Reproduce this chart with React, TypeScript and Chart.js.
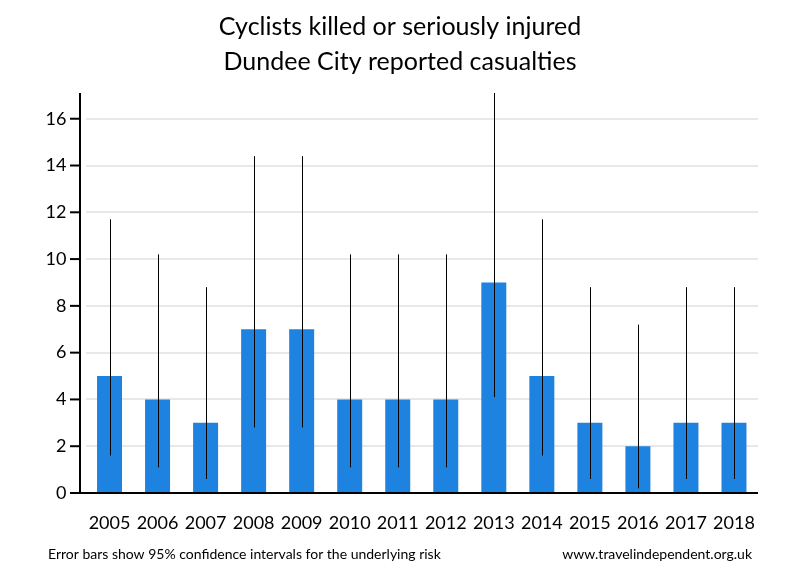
import React, { useEffect, useRef } from "react";
import { Chart, registerables } from "chart.js";

Chart.register(...registerables);

const years = ["2005","2006","2007","2008","2009","2010","2011","2012","2013","2014","2015","2016","2017","2018"];
const casualties = [5, 4, 3, 7, 7, 4, 4, 4, 9, 5, 3, 2, 3, 3];
const lowerCI = [1.6, 1.1, 0.6, 2.8, 2.8, 1.1, 1.1, 1.1, 4.1, 1.6, 0.6, 0.2, 0.6, 0.6];
const upperCI = [11.7, 10.2, 8.8, 14.4, 14.4, 10.2, 10.2, 10.2, 17.1, 11.7, 8.8, 7.2, 8.8, 8.8];
const titleLines = ["Cyclists killed or seriously injured", "Dundee City reported casualties"];
const footLeft = "Error bars show 95% confidence intervals for the underlying risk";
const footRight = "www.travelindependent.org.uk";
const yTicks = [0, 2, 4, 6, 8, 10, 12, 14, 16];

const FONT = "Lato, 'Open Sans', 'DejaVu Sans', sans-serif";

const decorPlugin = {
  id: "decor",
  afterDatasetsDraw(chart: any) {
    const ctx = chart.ctx;
    const area = chart.chartArea;
    const x = chart.scales.x;
    const y = chart.scales.y;
    ctx.save();
    // error bars
    ctx.strokeStyle = "#000";
    ctx.lineWidth = 1;
    for (let i = 0; i < years.length; i++) {
      const px = Math.round(x.getPixelForValue(i)) + 0.5;
      ctx.beginPath();
      ctx.moveTo(px, y.getPixelForValue(lowerCI[i]));
      ctx.lineTo(px, y.getPixelForValue(upperCI[i]));
      ctx.stroke();
    }
    // axes
    const axX = area.left - 5.5;
    ctx.lineWidth = 2;
    ctx.beginPath();
    ctx.moveTo(axX, area.top);
    ctx.lineTo(axX, area.bottom + 1);
    ctx.stroke();
    for (const t of yTicks) {
      const py = y.getPixelForValue(t);
      ctx.beginPath();
      ctx.moveTo(axX - 10, py);
      ctx.lineTo(axX, py);
      ctx.stroke();
    }
    ctx.beginPath();
    ctx.moveTo(axX - 10, area.bottom);
    ctx.lineTo(area.right, area.bottom);
    ctx.stroke();
    // titles
    ctx.fillStyle = "#000";
    ctx.textAlign = "center";
    ctx.textBaseline = "middle";
    ctx.font = `25px ${FONT}`;
    ctx.fillText(titleLines[0], 400, 27);
    ctx.fillText(titleLines[1], 400, 62);
    ctx.font = `14px ${FONT}`;
    ctx.textAlign = "left";
    ctx.fillText(footLeft, 48, 554);
    ctx.textAlign = "right";
    ctx.fillText(footRight, 752, 554);
    ctx.restore();
  },
};

export default function App() {
  const ref = useRef<HTMLCanvasElement>(null);
  useEffect(() => {
    if (!ref.current) return;
    const chart = new Chart(ref.current, {
      type: "bar",
      data: {
        labels: years,
        datasets: [
          {
            data: casualties,
            backgroundColor: "#1e82e1",
            barPercentage: 0.52,
            categoryPercentage: 1,
          },
        ],
      },
      options: {
        animation: false,
        responsive: false,
        maintainAspectRatio: false,
        layout: { padding: { top: 93, left: 0, right: 42, bottom: 47 } },
        plugins: { legend: { display: false }, tooltip: { enabled: false }, title: { display: false } },
        scales: {
          x: {
            grid: { display: false, drawTicks: false },
            border: { display: false },
            ticks: { color: "#000", font: { family: FONT, size: 18 }, padding: 19, maxRotation: 0, autoSkip: false },
            afterFit: (s: any) => { s.height = 40; },
          },
          y: {
            min: 0,
            max: 17.1,
            afterBuildTicks: (s: any) => { s.ticks = yTicks.map((v) => ({ value: v })); },
            grid: { color: "#e8e8e8", lineWidth: 2, drawTicks: false },
            border: { display: false },
            ticks: { color: "#000", font: { family: FONT, size: 18 }, padding: 19 },
            afterFit: (s: any) => { s.width = 85.5; },
          },
        },
      },
      plugins: [decorPlugin],
    });
    return () => chart.destroy();
  }, []);
  return (
    <div style={{ position: "absolute", left: 0, top: 0, width: 800, height: 580, background: "#fff" }}>
      <canvas ref={ref} width={800} height={580} style={{ width: 800, height: 580 }} />
    </div>
  );
}
